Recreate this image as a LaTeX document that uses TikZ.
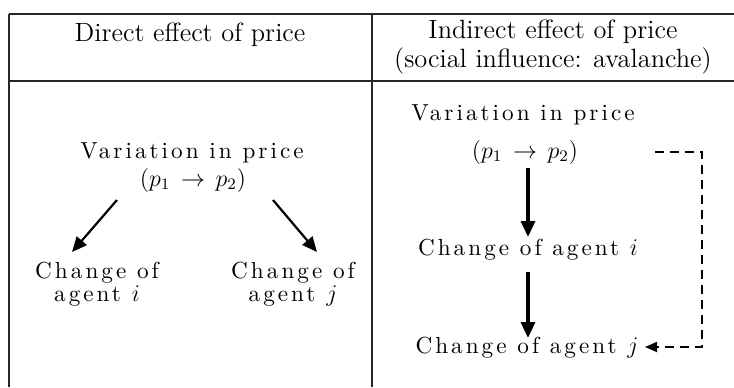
\documentclass[tikz,border=0pt]{standalone}
\usepackage{fontspec}
\newfontfamily\cellfont{lmroman10-regular.otf}[LetterSpace=13]
\usetikzlibrary{arrows.meta}
\begin{document}
\begin{tikzpicture}[x=0.5pt,y=-0.5pt,
  rule/.style={line width=0.9pt, black!85},
  head/.style={font=\fontsize{13.2}{14.5}\selectfont, align=center, inner sep=0pt},
  cell/.style={font=\cellfont\fontsize{11.6}{9.5}\selectfont, align=center, inner sep=0pt},
  thinarr/.style={line width=1.1pt, -{Triangle[length=7.5pt,width=6.5pt]}},
  thickarr/.style={line width=1.6pt, -{Triangle[length=8pt,width=7pt]}},
  dasharr/.style={line width=0.9pt, dash pattern=on 4.5pt off 3pt, -{Triangle[length=6pt,width=5pt]}}]
\useasboundingbox (0,0) rectangle (734,387);
% table rules
\draw[rule] (9,14) -- (734,14);
\draw[rule] (9,14) -- (9,387);
\draw[rule] (372,14) -- (372,387);
\draw[line width=1.4pt, black!85] (9,81) -- (734,81);
% headers
\node[head] (h1) at (190,35) {Direct effect of price};
\node[head] (h2) at (553,47) {Indirect effect of price\\(social influence: avalanche)};
% left cell
\node[cell] (lv) at (192,153) {Variation in price};
\node[cell] (lp) at (193,180) {$(p_1\,\to\,p_2)$};
\node[cell] (lci) at (97,284) {Change of\\agent $i$};
\node[cell] (lcj) at (293,284) {Change of\\agent $j$};
\coordinate (l1s) at (117,200);
\coordinate (l1e) at (72,252);
\coordinate (l2s) at (273,200);
\coordinate (l2e) at (317,252);
\draw[thinarr] (l1s) -- (l1e);
\draw[thinarr] (l2s) -- (l2e);
% right cell
\node[cell] (rv) at (523,115) {Variation in price};
\node[cell] (rp) at (525,152) {$(p_1\,\to\,p_2)$};
\node[cell] (rci) at (528,250) {Change of agent $i$};
\node[cell] (rcj) at (527,348) {Change of agent $j$};
\coordinate (r1s) at (528,168);
\coordinate (r1e) at (528,237);
\coordinate (r2s) at (528,272);
\coordinate (r2e) at (528,338);
\draw[thickarr] (r1s) -- (r1e);
\draw[thickarr] (r2s) -- (r2e);
\coordinate (d1) at (655,152);
\coordinate (d2) at (702,152);
\coordinate (d3) at (702,347);
\coordinate (d4) at (645,347);
\draw[dasharr] (d1) -- (d2) -- (d3) -- (d4);
\end{tikzpicture}
\end{document}
